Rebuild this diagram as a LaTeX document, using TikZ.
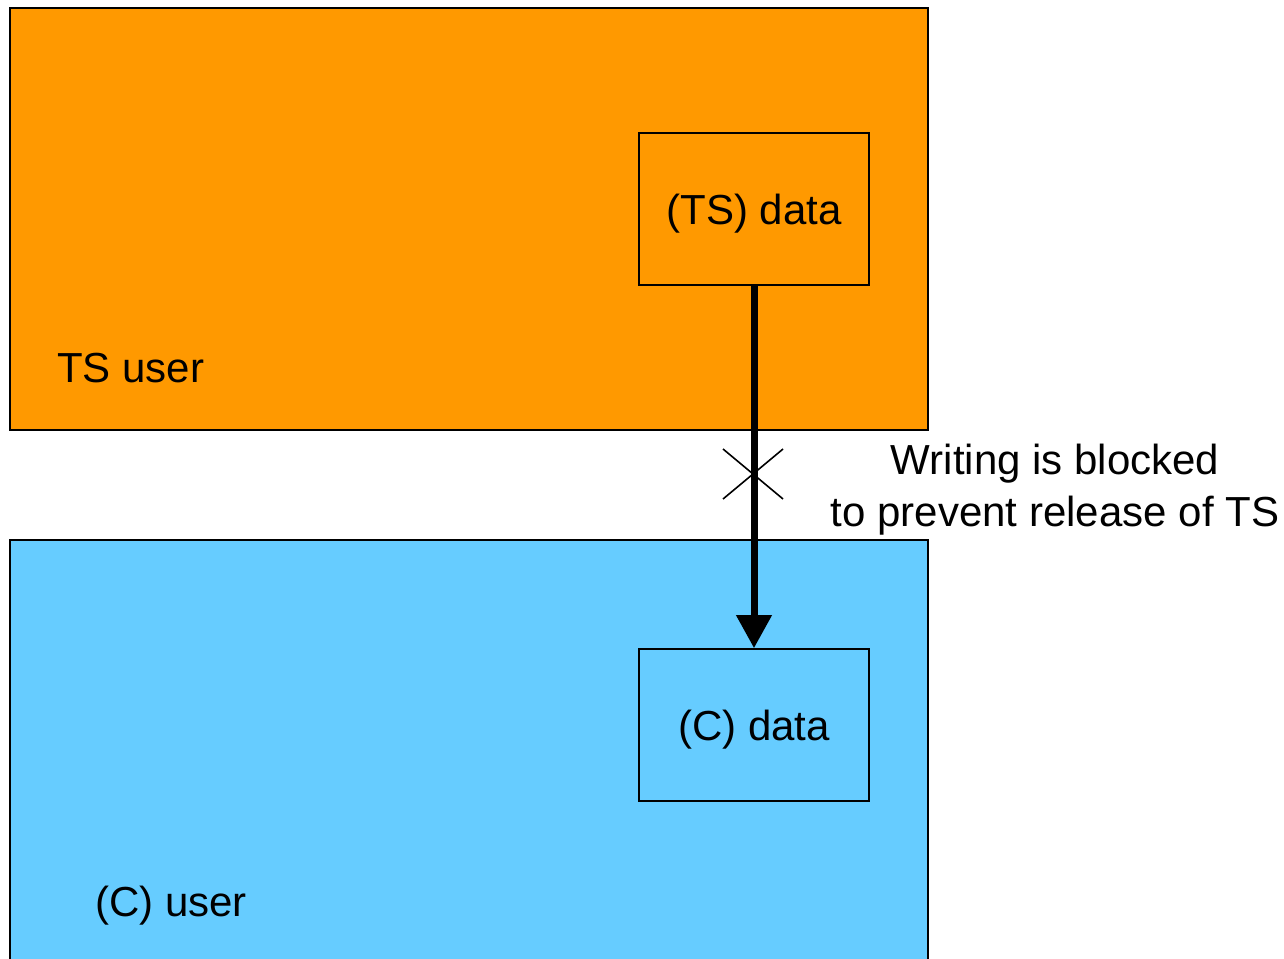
\documentclass[tikz,border=0pt]{standalone}
\usepackage{fontspec}
\setmainfont{Liberation Sans}
\usetikzlibrary{arrows.meta,calc}
\definecolor{tsorange}{HTML}{FF9900}
\definecolor{cblue}{HTML}{66CCFF}
\begin{document}
\begin{tikzpicture}[x=1pt,y=-1pt,
  region/.style={draw=black,line width=2pt,inner sep=0pt,anchor=north west},
  databox/.style={draw=black,line width=1.6pt,minimum width=230pt,minimum height=152pt,inner sep=0pt,text depth=-2pt,font=\fontsize{42}{50}\selectfont},
  lbl/.style={inner sep=0pt,font=\fontsize{42}{50}\selectfont},
  flow/.style={line width=7pt,-{Triangle[width=34pt,length=33pt]}},
  cross/.style={line width=1.6pt}]
\useasboundingbox (0,0) rectangle (1284,958);
\node[region,fill=tsorange,minimum width=918pt,minimum height=422pt] (ts) at (9,7) {};
\node[region,fill=cblue,minimum width=918pt,minimum height=440pt] (c) at (9,539) {};
\node[databox,fill=tsorange] (tsdata) at (754,209) {(TS) data};
\node[databox,fill=cblue] (cdata) at (754,725) {(C) data};
\node[lbl,anchor=west] (tsuser) at (57,368) {TS user};
\node[lbl,anchor=west] (cuser) at (95,906) {(C) user};
\draw[flow] (tsdata.south) -- (cdata.north);
\coordinate (x) at (753,474);
\draw[cross] ($(x)+(-30,-25)$) -- ($(x)+(30,25)$);
\draw[cross] ($(x)+(-30,25)$) -- ($(x)+(30,-25)$);
\node[lbl,align=center,font=\fontsize{42}{52}\selectfont] (note) at (1055,490) {Writing is blocked\\to prevent release of TS};
\end{tikzpicture}
\end{document}
